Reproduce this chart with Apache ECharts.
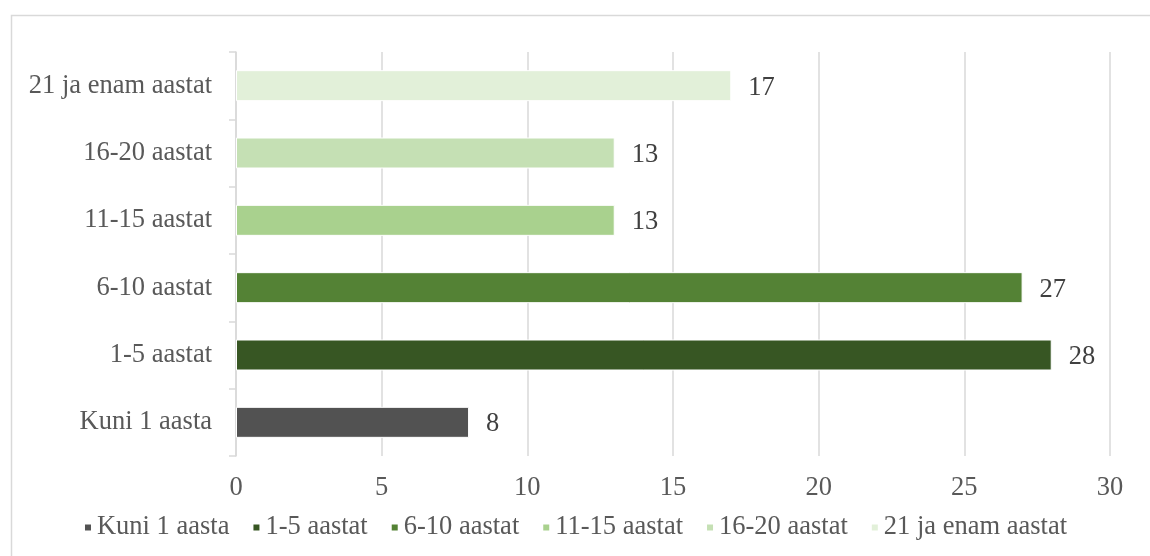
<!DOCTYPE html>
<html>
<head>
<meta charset="utf-8">
<script src="https://cdn.jsdelivr.net/npm/echarts@6/dist/echarts.min.js"></script>
<style>
  html, body { margin: 0; padding: 0; background: #fff; }
  #chart { width: 1150px; height: 556px; }
</style>
</head>
<body>
<div id="chart"></div>
<script>
var categories = ["Kuni 1 aasta", "1-5 aastat", "6-10 aastat", "11-15 aastat", "16-20 aastat", "21 ja enam aastat"];
var values = [8, 28, 27, 13, 13, 17];
var colors = ["#525252", "#375623", "#548235", "#A9D18E", "#C5E0B4", "#E2F0D9"];
var xTicks = [0, 5, 10, 15, 20, 25, 30];

var chart = echarts.init(document.getElementById("chart"));

// one series per category so every category gets a legend entry
var series = categories.map(function (name, i) {
  var data = categories.map(function (c, j) {
    return j === i ? values[i] : null;
  });
  return {
    name: name,
    type: "bar",
    stack: "all",
    barWidth: 31,
    data: data,
    itemStyle: { color: colors[i], borderColor: "#fff", borderWidth: 1 },
    label: {
      show: true,
      position: "right",
      distance: 17,
      offset: [0, 2],
      color: "#404040",
      fontSize: 26.5,
      fontFamily: "Liberation Serif",
    },
  };
});

chart.setOption({
  animation: false,
  textStyle: { fontFamily: "Liberation Serif" },
  graphic: [
    {
      type: "rect",
      shape: { x: 11.5, y: 15.5, width: 1160, height: 580 },
      style: { fill: null, stroke: "#d9d9d9", lineWidth: 1.5 },
      z: -1,
    },
  ],
  legend: {
    data: categories,
    left: "center",
    top: 509,
    icon: "rect",
    itemWidth: 8,
    itemHeight: 8,
    itemGap: 22,
    textStyle: { fontSize: 26.5, color: "#595959", fontFamily: "Liberation Serif" },
  },
  grid: { left: 236, right: 40, top: 52, bottom: 100 },
  xAxis: {
    type: "value",
    min: xTicks[0],
    max: xTicks[xTicks.length - 1],
    interval: 5,
    axisLine: { show: false },
    axisTick: { show: false },
    axisLabel: { fontSize: 26.5, color: "#595959", margin: 19, fontFamily: "Liberation Serif" },
    splitLine: { lineStyle: { color: "#d9d9d9", width: 1.5 } },
  },
  yAxis: {
    type: "category",
    data: categories,
    axisLine: { lineStyle: { color: "#d9d9d9", width: 1.5 } },
    axisTick: { show: true, length: 7, lineStyle: { color: "#d9d9d9", width: 1.5 } },
    axisLabel: {
      fontSize: 26.5,
      color: "#595959",
      margin: 24,
      padding: [4, 0, 0, 0],
      fontFamily: "Liberation Serif",
    },
  },
  series: series,
});
</script>
</body>
</html>
